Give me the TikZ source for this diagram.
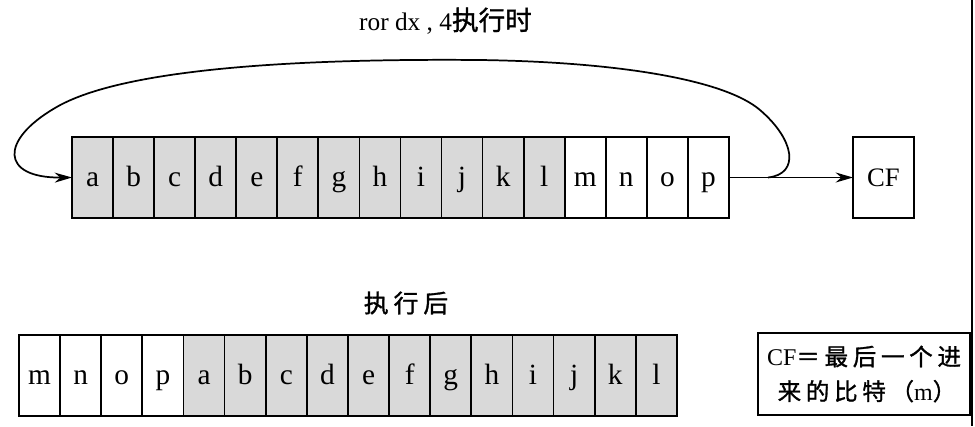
\documentclass[tikz,border=0pt]{standalone}
\usepackage{fontspec}
\setmainfont{Liberation Serif}
\newfontfamily\cjk[Scale=1.05,FakeBold=1.2]{Noto Sans CJK SC}
\newfontfamily\cjkwide[Scale=0.98,FakeBold=1.2,LetterSpace=20]{Noto Sans CJK SC}
\usetikzlibrary{arrows.meta}
\definecolor{cellgray}{gray}{0.85}
\tikzset{
  cell/.style={draw, line width=1.3pt, minimum width=30.8pt, minimum height=60.75pt,
    inner sep=0pt, outer sep=0pt, text height=16pt, text depth=2pt,
    font=\fontsize{22}{24}\selectfont},
  shaded/.style={fill=cellgray},
}
\begin{document}
\begin{tikzpicture}[x=0.75pt,y=-0.75pt,>={Stealth[length=13pt,width=7.5pt]}]

  \useasboundingbox (0,0) rectangle (975,426);

  % register before
  \foreach \l [count=\i] in {a,b,c,d,e,f,g,h,i,j,k,l}
    \node[cell,shaded] (t\i) at ({72+41.06*(\i-0.5)},177.5) {\l};
  \foreach \l [count=\i from 13] in {m,n,o,p}
    \node[cell] (t\i) at ({72+41.06*(\i-0.5)},177.5) {\l};

  \node[cell,minimum width=45.75pt,font=\fontsize{20}{22}\selectfont] (cftop) at (883.5,177.5) {CF};

  \node[anchor=base,font=\fontsize{19}{21}\selectfont] (title) at (445.5,30) {ror dx , 4{\cjk 执行时}};

  % arrows
  \draw[line width=1.3pt,->] (t16.east) -- (cftop.west);
  \coordinate (turn) at (768,177.5);
  \draw[line width=1.3pt,->] (turn) .. controls (800,174) and (795,140) .. (760,110)
    .. controls (725,80) and (620,62) .. (480,60)
    .. controls (250,58) and (110,75) .. (55,108)
    .. controls (0,140) and (0,178) .. (t1.west);

  % register after
  \node[font=\fontsize{19}{21}\selectfont] (after) at (406,303) {\cjkwide 执行后};
  \foreach \l [count=\i] in {m,n,o,p}
    \node[cell] (b\i) at ({19+41.12*(\i-0.5)},375.5) {\l};
  \foreach \l [count=\i from 5] in {a,b,c,d,e,f,g,h,i,j,k,l}
    \node[cell,shaded] (b\i) at ({19+41.12*(\i-0.5)},375.5) {\l};

  \node[draw,line width=1.3pt,minimum width=159pt,minimum height=61.5pt,inner sep=0pt,
    align=left,font=\fontsize{18}{26}\selectfont] (cfnote) at (864,374)
    {CF{\cjkwide ＝最后一个进}\\\hspace*{8pt}{\cjkwide 来的比特（}m{\cjkwide ）}};

  \draw[line width=0.8pt] (972,0) -- (972,426);

\end{tikzpicture}
\end{document}
